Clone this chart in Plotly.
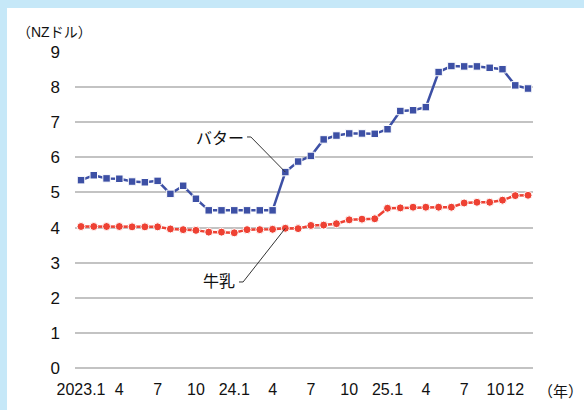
import plotly.graph_objects as go

# ---- data (monthly, 2023.1 - 2025.12) ----
months = list(range(36))
butter = [5.35, 5.49, 5.40, 5.39, 5.31, 5.29, 5.33, 4.96, 5.19, 4.82, 4.49, 4.49,
          4.49, 4.49, 4.49, 4.49, 5.58, 5.88, 6.04, 6.51, 6.62, 6.68, 6.68, 6.67,
          6.80, 7.32, 7.34, 7.43, 8.43, 8.60, 8.59, 8.59, 8.55, 8.51, 8.05, 7.96]
milk = [4.03, 4.03, 4.03, 4.03, 4.02, 4.02, 4.02, 3.96, 3.94, 3.92, 3.87, 3.87,
        3.85, 3.94, 3.94, 3.95, 3.98, 3.97, 4.06, 4.07, 4.11, 4.22, 4.24, 4.25,
        4.55, 4.56, 4.58, 4.58, 4.58, 4.58, 4.70, 4.72, 4.72, 4.78, 4.91, 4.92]
tick_vals = [0, 3, 6, 9, 12, 15, 18, 21, 24, 27, 30, 32.45, 34.0]
tick_text = ["2023.1", "4", "7", "10", "24.1", "4", "7", "10", "25.1", "4", "7", "10", "12"]
y_ticks = list(range(0, 10))

BLUE = "#3d50a5"
RED = "#ee4133"
FONT = "Liberation Sans, Noto Sans CJK JP, sans-serif"

W, H = 584, 410
L, R, T, B = 75, 51, 52, 42
PW, PH = W - L - R, H - T - B

def px(xp):
    return (xp - L) / PW

def py(yp):
    return (H - B - yp) / PH

fig = go.Figure()
fig.add_trace(go.Scatter(
    x=months, y=milk, mode="lines+markers", name="牛乳",
    line=dict(color=RED, width=2.5),
    marker=dict(symbol="circle", size=8, color=RED, line=dict(color="white", width=1)),
    cliponaxis=False))
fig.add_trace(go.Scatter(
    x=months, y=butter, mode="lines+markers", name="バター",
    line=dict(color=BLUE, width=2.5),
    marker=dict(symbol="square", size=7.5, color=BLUE, line=dict(color="white", width=1)),
    cliponaxis=False))

# leader lines
fig.add_shape(type="path", xref="x", yref="y",
              path=f"M 13.0 6.58 L 13.3 6.58 L 16 {butter[16]}",
              line=dict(color="#333333", width=1))
fig.add_shape(type="path", xref="x", yref="y",
              path=f"M 12.37 2.45 L 12.69 2.45 L 16 {milk[16]}",
              line=dict(color="#333333", width=1))

# frame background
fig.add_shape(type="rect", xref="paper", yref="paper", layer="below",
              x0=px(7), x1=px(W + 5), y0=py(H + 5), y1=py(8),
              fillcolor="white", line=dict(width=0))

fig.add_annotation(x=10.9, y=6.55, xref="x", yref="y", text="バター", showarrow=False,
                   font=dict(size=16, color="#111111", family=FONT))
fig.add_annotation(x=10.8, y=2.45, xref="x", yref="y", text="牛乳", showarrow=False,
                   font=dict(size=16, color="#111111", family=FONT))
fig.add_annotation(x=px(15), y=py(32), xref="paper", yref="paper", text="（NZドル）",
                   showarrow=False, xanchor="left", yanchor="middle",
                   font=dict(size=14, color="#111111", family=FONT))
fig.add_annotation(x=px(536), y=py(391), xref="paper", yref="paper", text="（年）",
                   showarrow=False, xanchor="left", yanchor="middle",
                   font=dict(size=15, color="#111111", family=FONT))

fig.update_layout(
    width=W, height=H, autosize=False,
    margin=dict(l=L, r=R, t=T, b=B, pad=0),
    paper_bgcolor="#c6e8f8", plot_bgcolor="white",
    showlegend=False,
    font=dict(family=FONT, size=16, color="#111111"),
)
fig.update_xaxes(range=[-0.47, 35.39], showgrid=False, zeroline=False, showline=False,
                 tickmode="array", tickvals=tick_vals, ticktext=tick_text,
                 tickangle=0, automargin=False,
                 ticks="", ticklabelstandoff=10, tickfont=dict(size=16))
fig.update_yaxes(range=[0, 9], tickvals=y_ticks, showgrid=True, gridcolor="#c3c3c3",
                 gridwidth=1.5, zeroline=True, zerolinecolor="#c3c3c3", zerolinewidth=1.5,
                 showline=False, ticks="", automargin=False,
                 ticklabelstandoff=14, tickfont=dict(size=17))

fig.write_html("out.html")
